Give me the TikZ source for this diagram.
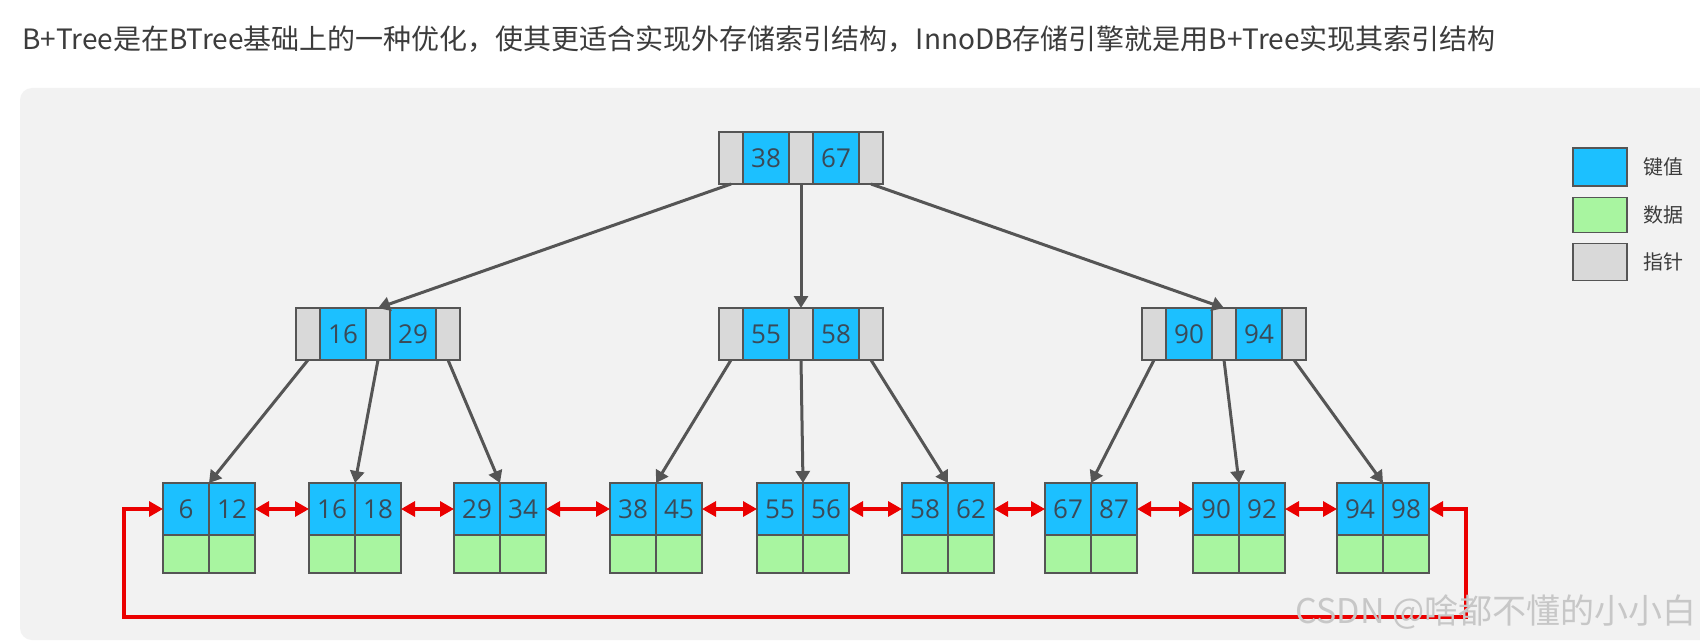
\documentclass[tikz,border=0pt]{standalone}
\usepackage{fontspec}
\setmainfont{Open Sans}
\newfontfamily\cjk{Noto Sans CJK SC}
\usepackage{tikz}
\usetikzlibrary{arrows.meta,positioning}

\definecolor{keyblue}{RGB}{28,192,255}
\definecolor{datagreen}{RGB}{168,245,160}
\definecolor{ptrgray}{RGB}{217,217,217}
\definecolor{edgegray}{RGB}{85,85,85}
\definecolor{linkgray}{RGB}{85,85,85}
\definecolor{chainred}{RGB}{235,0,0}
\definecolor{panelgray}{RGB}{242,242,242}
\definecolor{numtext}{RGB}{58,74,88}
\definecolor{titlegray}{RGB}{60,60,60}

\begin{document}
\begin{tikzpicture}[x=0.5pt, y=-0.5pt,
    cell/.style={draw=edgegray, line width=0.6pt, inner sep=0pt, outer sep=0pt},
    ptr/.style={cell, fill=ptrgray, minimum width=12pt, minimum height=26pt},
    keycell/.style={cell, fill=keyblue, minimum width=23pt, minimum height=26pt, font=\fontsize{13}{15}\selectfont, text=numtext},
    datacell/.style={cell, fill=datagreen, minimum width=23pt, minimum height=19pt},
    legbox/.style={cell, minimum width=27pt, minimum height=19pt},
    leglabel/.style={font=\cjk\fontsize{10}{12}\selectfont, text=titlegray, inner sep=0pt},
    link/.style={-{Triangle[length=6pt,width=7pt]}, line width=1.5pt, draw=linkgray},
    chain/.style={{Triangle[length=7pt,width=7.5pt]}-{Triangle[length=7pt,width=7.5pt]}, line width=1.6pt, draw=chainred},
  ]
  \useasboundingbox (0,0) rectangle (1700,642);
  \fill[white] (0,0) rectangle (1700,642);
  \fill[panelgray, rounded corners=6pt] (20,88) rectangle (1740,640);

  % Title
  \node[anchor=west, font=\cjk\fontsize{14}{16}\selectfont, text=titlegray, inner sep=0pt] (title) at (22,39)
    {B+Tree是在BTree基础上的一种优化，使其更适合实现外存储索引结构，InnoDB存储引擎就是用B+Tree实现其索引结构};

  % Root
  \node[ptr] (r1) at (801,158) {};
  \node[keycell, left=0pt of r1] (rk1) {38};
  \node[ptr, left=0pt of rk1] (r0) {};
  \node[keycell, right=0pt of r1] (rk2) {67};
  \node[ptr, right=0pt of rk2] (r2) {};

  % Second level
  \node[ptr] (a1) at (378,334) {};
  \node[keycell, left=0pt of a1] (ak1) {16};
  \node[ptr, left=0pt of ak1] (a0) {};
  \node[keycell, right=0pt of a1] (ak2) {29};
  \node[ptr, right=0pt of ak2] (a2) {};

  \node[ptr] (b1) at (801,334) {};
  \node[keycell, left=0pt of b1] (bk1) {55};
  \node[ptr, left=0pt of bk1] (b0) {};
  \node[keycell, right=0pt of b1] (bk2) {58};
  \node[ptr, right=0pt of bk2] (b2) {};

  \node[ptr] (c1) at (1224,334) {};
  \node[keycell, left=0pt of c1] (ck1) {90};
  \node[ptr, left=0pt of ck1] (c0) {};
  \node[keycell, right=0pt of c1] (ck2) {94};
  \node[ptr, right=0pt of ck2] (c2) {};

  % Leaves
  \foreach \i/\x/\u/\v in {1/209/6/12, 2/355/16/18, 3/500/29/34, 4/656/38/45, 5/803/55/56,
                           6/948/58/62, 7/1091/67/87, 8/1239/90/92, 9/1383/94/98} {
    \node[keycell, anchor=north east] (l\i-a) at (\x,483) {\u};
    \node[keycell, right=0pt of l\i-a] (l\i-b) {\v};
    \node[datacell, below=0pt of l\i-a] (l\i-c) {};
    \node[datacell, below=0pt of l\i-b] (l\i-d) {};
  }

  % Pointers
  \draw[link] (r0.south) -- (a1.north);
  \draw[link] (r1.south) -- (b1.north);
  \draw[link] (r2.south) -- (c1.north);
  \draw[link] (a0.south) -- (l1-a.north east);
  \draw[link] (a1.south) -- (l2-a.north east);
  \draw[link] (a2.south) -- (l3-a.north east);
  \draw[link] (b0.south) -- (l4-a.north east);
  \draw[link] (b1.south) -- (l5-a.north east);
  \draw[link] (b2.south) -- (l6-a.north east);
  \draw[link] (c0.south) -- (l7-a.north east);
  \draw[link] (c1.south) -- (l8-a.north east);
  \draw[link] (c2.south) -- (l9-a.north east);

  % Leaf chain
  \foreach \i [evaluate=\i as \j using int(\i+1)] in {1,...,8}
    \draw[chain] (l\i-b.east) -- (l\j-a.west);
  \coordinate (loopL) at (124,617);
  \coordinate (loopR) at (1466,617);
  \draw[chain] (l1-a.west) -- (l1-a.west -| loopL) -- (loopL) -- (loopR) -- (l9-b.east -| loopR) -- (l9-b.east);

  % Legend
  \node[legbox, fill=keyblue] (lg1) at (1600,167) {};
  \node[legbox, fill=datagreen, minimum height=17.5pt] (lg2) at (1600,215) {};
  \node[legbox, fill=ptrgray, minimum height=18.5pt] (lg3) at (1600,262) {};
  \node[leglabel, right=8pt of lg1] (lt1) {键值};
  \node[leglabel, right=8pt of lg2] (lt2) {数据};
  \node[leglabel, right=8pt of lg3] (lt3) {指针};

  % Watermark
  \node[font=\cjk\fontsize{17}{20}\selectfont, text=black!22, inner sep=0pt] (mark) at (1496,612) {CSDN @啥都不懂的小小白};
\end{tikzpicture}
\end{document}
